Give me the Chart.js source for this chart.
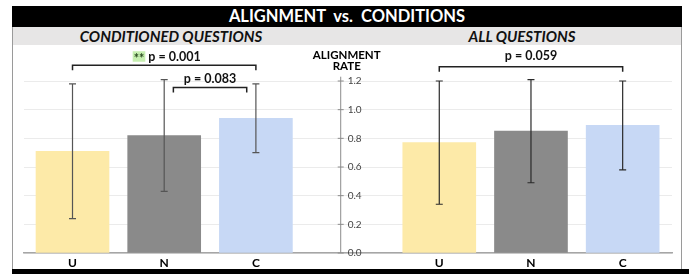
<!DOCTYPE html>
<html>
<head>
<meta charset="utf-8">
<script src="https://cdn.jsdelivr.net/npm/chart.js@4"></script>
<style>
  body { margin: 0; background: #fff; }
  #wrap { position: relative; width: 689px; height: 274px; overflow: hidden; font-family: Lato, sans-serif; }
  #title { position: absolute; left: 12px; top: 6px; width: 670px; height: 21px; background: #000; color: #fff;
           font-weight: 700; font-size: 16.5px; line-height: 21px; text-align: center; white-space: pre; }
  #band { position: absolute; left: 13px; top: 27px; width: 668px; height: 18px; background: #E7E6E6; }
  .sub { position: absolute; top: 0; font-weight: 700; font-style: italic; font-size: 15px; line-height: 18px;
         transform: translateX(-50%); white-space: nowrap; color: #111; }
  .side { position: absolute; top: 27px; width: 1px; height: 242px; background: #9a9a9a; }
  #bottom { position: absolute; left: 12px; top: 269px; width: 677px; height: 5px; background: #000; }
  canvas { position: absolute; left: 0; top: 0; }
</style>
</head>
<body>
<div id="wrap">
  <div id="title">ALIGNMENT  vs.  CONDITIONS</div>
  <div id="band">
    <span class="sub" style="left:158px">CONDITIONED QUESTIONS</span>
    <span class="sub" style="left:509px">ALL QUESTIONS</span>
  </div>
  <div class="side" style="left:12px"></div>
  <div class="side" style="left:681px"></div>
  <div id="bottom"></div>
  <canvas id="chart" width="689" height="274"></canvas>
</div>
<script>
// values
const categories = ['U', 'N', 'C'];
const conditionedRates = [0.71, 0.82, 0.94];
const conditionedErrors = [0.47, 0.39, 0.24];
const allRates = [0.77, 0.85, 0.89];
const allErrors = [0.43, 0.36, 0.31];
const barColors = ['#FDEAA8', '#8A8A8A', '#C7D8F5'];
const yTicks = [0, 0.2, 0.4, 0.6, 0.8, 1.0, 1.2];
const yTitle = ['ALIGNMENT', 'RATE'];
const conditionedTests = [
    { from: 0, to: 2, p: 'p = 0.001', stars: '**' },
    { from: 1, to: 2, p: 'p = 0.083' }
];
const allTests = [
    { from: 0, to: 2, p: 'p = 0.059' }
];

// layout on the shared linear x axis: left panel at 0..2, right panel at 4..6
const RIGHT_START = 4;
const AXIS_X = 2.925;
const FONT = 'Lato, sans-serif';

const xPositions = categories.map((c, i) => i).concat(categories.map((c, i) => i + RIGHT_START));
const xLabels = categories.concat(categories);

// bracket placement (value units) for each group of tests
const bracketLayout = {
    0: [{ level: 1.31, inset: 0, gap: 4 }, { level: 1.155, inset: 0.1, gap: 4 }],
    1: [{ level: 1.30, inset: 0, gap: 7 }]
};

const errorBarPlugin = {
    id: 'errorBars',
    afterDatasetsDraw(chart) {
        const ctx = chart.ctx;
        const y = chart.scales.y;
        chart.data.datasets.forEach((ds, di) => {
            const meta = chart.getDatasetMeta(di);
            ctx.save();
            ctx.strokeStyle = ds.errorColor;
            ctx.lineWidth = 1.2;
            meta.data.forEach((bar, i) => {
                const v = ds.data[i].y;
                const e = ds.errors[i];
                const top = y.getPixelForValue(v + e);
                const bot = y.getPixelForValue(v - e);
                ctx.beginPath();
                ctx.moveTo(bar.x, top); ctx.lineTo(bar.x, bot);
                ctx.moveTo(bar.x - 3.5, top); ctx.lineTo(bar.x + 3.5, top);
                ctx.moveTo(bar.x - 3.5, bot); ctx.lineTo(bar.x + 3.5, bot);
                ctx.stroke();
            });
            ctx.restore();
        });
    }
};

const middleAxisPlugin = {
    id: 'middleAxis',
    afterDraw(chart) {
        const ctx = chart.ctx;
        const x = chart.scales.x.getPixelForValue(AXIS_X);
        const y = chart.scales.y;
        const area = chart.chartArea;
        ctx.save();
        ctx.strokeStyle = '#8c8c8c';
        ctx.lineWidth = 1;
        ctx.beginPath();
        ctx.moveTo(x, area.top); ctx.lineTo(x, area.bottom);
        y.ticks.forEach(t => {
            const py = y.getPixelForValue(t.value);
            ctx.moveTo(x - 3, py); ctx.lineTo(x + 3, py);
        });
        ctx.stroke();
        ctx.fillStyle = '#444';
        ctx.font = '10px ' + FONT;
        ctx.textAlign = 'left';
        ctx.textBaseline = 'middle';
        y.ticks.forEach(t => {
            ctx.fillText(t.value.toFixed(1), x + 7, y.getPixelForValue(t.value));
        });
        ctx.fillStyle = '#000';
        ctx.font = 'bold 11.5px ' + FONT;
        ctx.textAlign = 'center';
        ctx.textBaseline = 'alphabetic';
        ctx.fillText(yTitle[0], x + 6, 59);
        ctx.fillText(yTitle[1], x + 6, 69.5);
        ctx.restore();
    }
};

const bracketPlugin = {
    id: 'brackets',
    afterDraw(chart) {
        const ctx = chart.ctx;
        const xs = chart.scales.x;
        const ys = chart.scales.y;
        [conditionedTests, allTests].forEach((tests, gi) => {
            const base = gi === 0 ? 0 : RIGHT_START;
            tests.forEach((t, ti) => {
                const lay = bracketLayout[gi][ti];
                const x1 = xs.getPixelForValue(base + t.from + lay.inset);
                const x2 = xs.getPixelForValue(base + t.to - lay.inset);
                const py = ys.getPixelForValue(lay.level);
                ctx.save();
                ctx.strokeStyle = '#222';
                ctx.lineWidth = 1.5;
                ctx.beginPath();
                ctx.moveTo(x1, py + 5); ctx.lineTo(x1, py); ctx.lineTo(x2, py); ctx.lineTo(x2, py + 5);
                ctx.stroke();
                ctx.font = 'bold 12.5px ' + FONT;
                ctx.textBaseline = 'alphabetic';
                ctx.textAlign = 'left';
                const mid = (x1 + x2) / 2;
                const pw = ctx.measureText(t.p).width;
                const ty = py - lay.gap;
                if (t.stars) {
                    const sw = ctx.measureText(t.stars).width;
                    const total = sw + 4 + pw;
                    let sx = mid - total / 2 + 3;
                    ctx.fillStyle = '#C6EFB0';
                    ctx.fillRect(sx - 1, ty - 10, sw + 2, 10.5);
                    ctx.fillStyle = '#2a4a20';
                    ctx.fillText(t.stars, sx, ty + 2);
                    ctx.fillStyle = '#111';
                    ctx.fillText(t.p, sx + sw + 4, ty);
                } else {
                    ctx.fillStyle = '#111';
                    ctx.fillText(t.p, mid - pw / 2, ty);
                }
                ctx.restore();
            });
        });
    }
};

const makeDataset = (label, rates, errors, base, errorColor) => ({
    label: label,
    data: rates.map((v, i) => ({ x: i + base, y: v })),
    errors: errors,
    errorColor: errorColor,
    backgroundColor: barColors,
    borderWidth: 0,
    barThickness: 73,
    grouped: false
});

new Chart(document.getElementById('chart'), {
    type: 'bar',
    data: {
        datasets: [
            makeDataset('Conditioned questions', conditionedRates, conditionedErrors, 0, '#555'),
            makeDataset('All questions', allRates, allErrors, RIGHT_START, '#2a2a2a')
        ]
    },
    options: {
        responsive: false,
        animation: false,
        devicePixelRatio: 1,
        layout: { padding: { left: 24, right: 17, top: 76.7, bottom: 5 } },
        plugins: { legend: { display: false }, tooltip: { enabled: false } },
        scales: {
            x: {
                type: 'linear',
                min: -0.529,
                max: 6.538,
                offset: false,
                grid: { display: false, drawTicks: false },
                border: { display: true, color: '#a6a6a6', width: 1.5 },
                afterBuildTicks: s => { s.ticks = xPositions.map(v => ({ value: v })); },
                afterFit: s => { s.height = 16; },
                ticks: {
                    autoSkip: false,
                    maxRotation: 0,
                    padding: 3,
                    color: '#000',
                    font: { family: FONT, weight: 'bold', size: 12 },
                    callback: (value, index) => xLabels[index]
                }
            },
            y: {
                min: 0,
                max: 1.23,
                afterBuildTicks: s => { s.ticks = yTicks.map(v => ({ value: v })); },
                afterFit: s => { s.width = 0; },
                grid: { color: '#ebebeb', drawTicks: false },
                border: { display: false },
                ticks: { display: false }
            }
        }
    },
    plugins: [errorBarPlugin, middleAxisPlugin, bracketPlugin]
});
</script>
</body>
</html>
